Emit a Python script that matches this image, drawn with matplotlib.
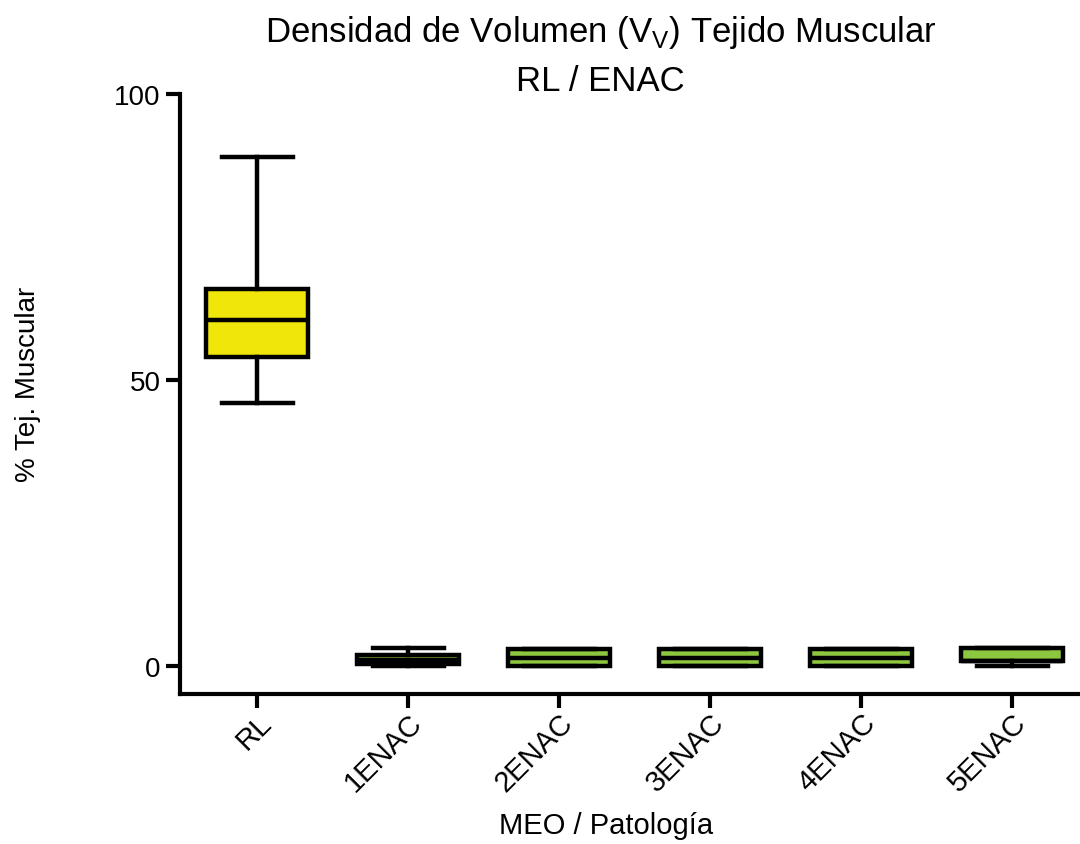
import matplotlib
matplotlib.use("Agg")
import matplotlib.pyplot as plt

plt.rcParams["font.family"] = ["Liberation Sans", "DejaVu Sans"]

groups = ["RL", "1ENAC", "2ENAC", "3ENAC", "4ENAC", "5ENAC"]
whisker_low = [46.0, 0.0, 0.0, 0.0, 0.0, 0.0]
q1 = [54.0, 0.4, 0.0, 0.0, 0.0, 0.8]
median = [60.5, 1.0, 1.4, 1.4, 1.4, 0.8]
q3 = [65.9, 1.9, 3.0, 3.0, 3.0, 3.2]
whisker_high = [89.0, 3.1, 3.0, 3.0, 3.0, 3.2]
fill_colors = ["#f0e60a", "#8dc63f", "#8dc63f", "#8dc63f", "#8dc63f", "#8dc63f"]

stats = [
    {"label": g, "whislo": lo, "q1": a, "med": m, "q3": b, "whishi": hi}
    for g, lo, a, m, b, hi in zip(groups, whisker_low, q1, median, q3, whisker_high)
]

fig = plt.figure(figsize=(10.8, 8.45), dpi=100)
ax = fig.add_axes([0.1667, 0.1775, 0.8333, 0.7101])

lw = 3.2
bp = ax.bxp(
    stats,
    positions=range(len(groups)),
    widths=0.67,
    patch_artist=True,
    showfliers=False,
    boxprops=dict(linewidth=lw, edgecolor="black"),
    medianprops=dict(linewidth=lw, color="black"),
    whiskerprops=dict(linewidth=lw, color="black"),
    capprops=dict(linewidth=lw, color="black"),
    capwidths=0.47,
)
for patch, c in zip(bp["boxes"], fill_colors):
    patch.set_facecolor(c)

ax.set_xlim(-0.51, 5.45)
ax.set_ylim(-4.9, 100)
ax.set_yticks([0, 50, 100])
ax.set_xticks(range(len(groups)))
ax.set_xticklabels(groups, rotation=45, ha="right", rotation_mode="anchor", fontsize=21)
ax.tick_params(axis="y", labelsize=20, width=3, length=10, pad=4)
ax.tick_params(axis="x", width=3, length=10, pad=0)

for side in ["top", "right"]:
    ax.spines[side].set_visible(False)
for side in ["left", "bottom"]:
    ax.spines[side].set_linewidth(3)
ax.spines["left"].set_bounds(-4.9, 100)

ax.set_ylabel("% Tej. Muscular", fontsize=20, labelpad=0)
ax.yaxis.set_label_coords(-0.155, 0.517)
ax.set_xlabel("MEO / Patología", fontsize=21)
ax.xaxis.set_label_coords(0.473, -0.195)

fig.text(0.556, 0.962, "Densidad de Volumen (V$_\\mathregular{V}$) Tejido Muscular",
         ha="center", va="center", fontsize=25)
fig.text(0.556, 0.903, "RL / ENAC", ha="center", va="center", fontsize=25)

fig.savefig("out.png", dpi=100)
